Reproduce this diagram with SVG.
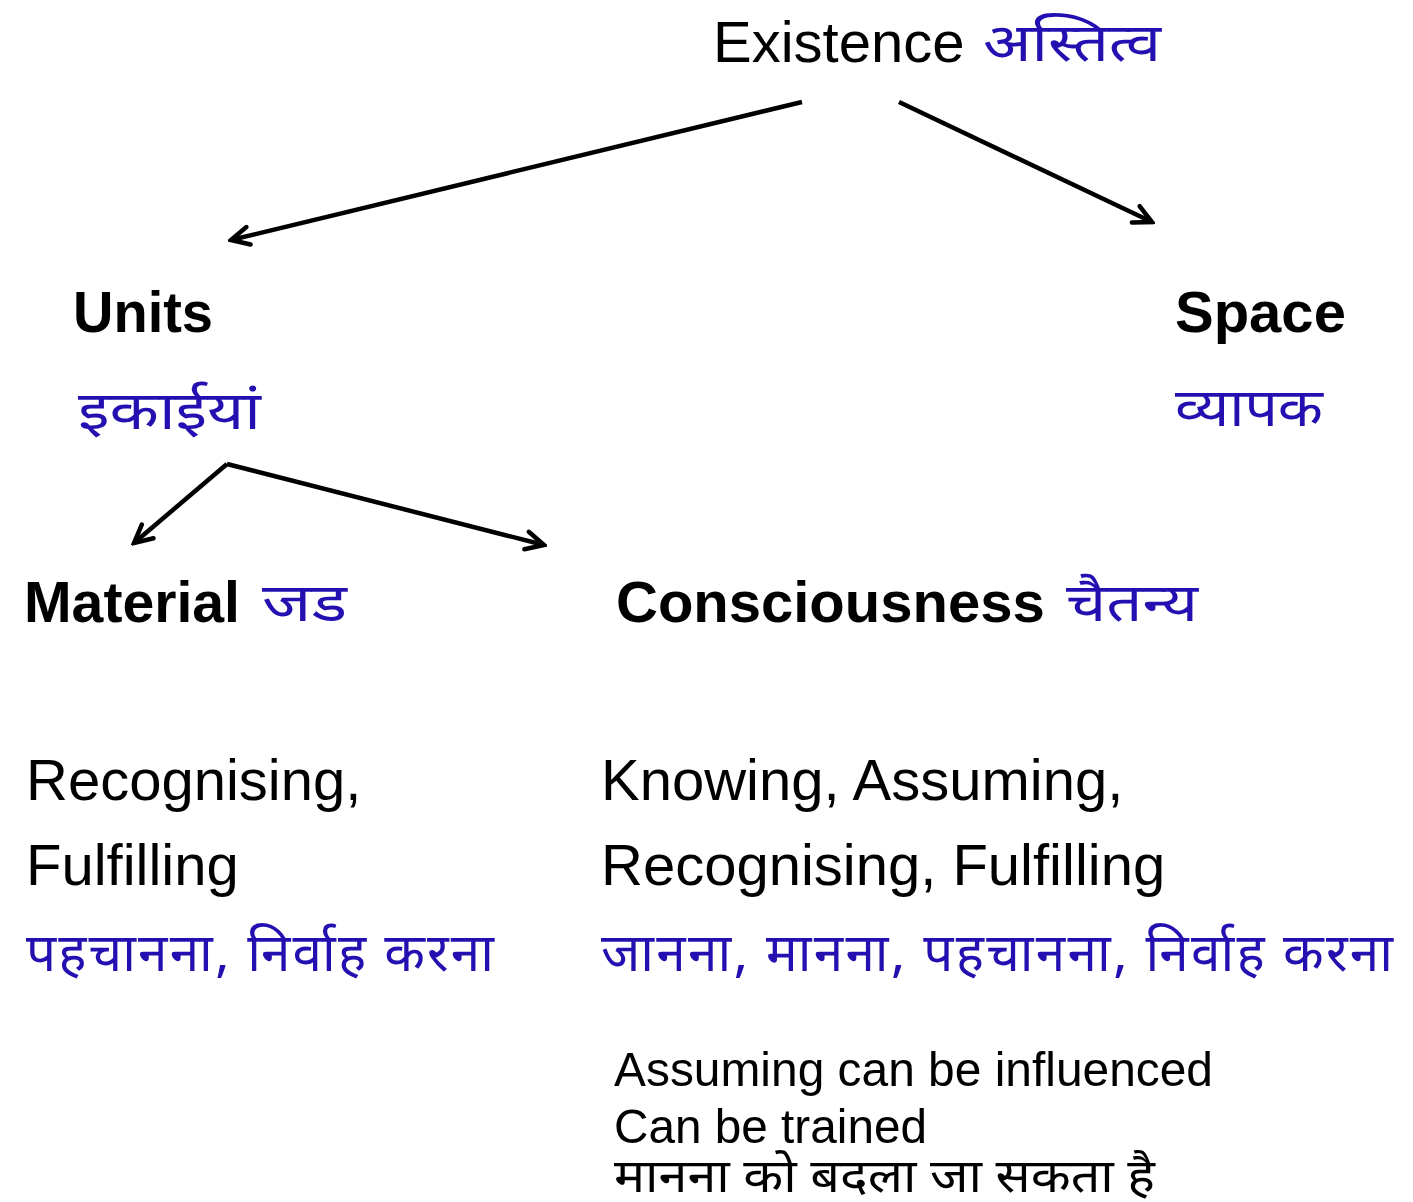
<svg xmlns="http://www.w3.org/2000/svg" width="1413" height="1202" viewBox="0 0 1413 1202">
<defs>
<style>
.en{font-family:"Liberation Sans",Arial,sans-serif;fill:#000;font-size:58px}
.b{font-weight:bold}
.hi{font-family:"Noto Sans Devanagari","Noto Sans","Liberation Sans",sans-serif;fill:#2410b0;font-size:53px}
.hk{font-family:"Noto Sans Devanagari","Noto Sans","Liberation Sans",sans-serif;fill:#000;font-size:46px}
.sm{font-family:"Liberation Sans",Arial,sans-serif;fill:#000;font-size:49px}
.c{stroke:#000;stroke-width:4.5;fill:none}
</style>
<marker id="ah" viewBox="0 0 24 24" refX="21" refY="12" markerWidth="24" markerHeight="24" markerUnits="userSpaceOnUse" orient="auto">
<path d="M3,3 L21,12 L3,21" fill="none" stroke="#000" stroke-width="4.5" stroke-linecap="round"/>
</marker>
</defs>
<rect width="1413" height="1202" fill="#fff"/>
<g id="existence">
<text class="en" x="713" y="62">Existence</text>
<text class="hi" x="983" y="61" textLength="178" lengthAdjust="spacingAndGlyphs">अस्तित्व</text>
</g>
<g id="units">
<text class="en b" x="73" y="332" textLength="140" lengthAdjust="spacingAndGlyphs">Units</text>
<text class="hi" x="78" y="429" textLength="183" lengthAdjust="spacingAndGlyphs">इकाईयां</text>
</g>
<g id="space">
<text class="en b" x="1175" y="332">Space</text>
<text class="hi" x="1175" y="426" textLength="148" lengthAdjust="spacingAndGlyphs">व्यापक</text>
</g>
<g id="material">
<text class="en b" x="24" y="622" textLength="216" lengthAdjust="spacingAndGlyphs">Material</text>
<text class="hi" x="262" y="621" textLength="85" lengthAdjust="spacingAndGlyphs">जड</text>
<text class="en" x="26" y="800">Recognising,</text>
<text class="en" x="26" y="885">Fulfilling</text>
<text class="hi" x="26" y="971" textLength="468" lengthAdjust="spacing">पहचानना, निर्वाह करना</text>
</g>
<g id="consciousness">
<text class="en b" x="616" y="622">Consciousness</text>
<text class="hi" x="1066" y="621" textLength="132" lengthAdjust="spacingAndGlyphs">चैतन्य</text>
<text class="en" x="601" y="800">Knowing, Assuming,</text>
<text class="en" x="601" y="885">Recognising, Fulfilling</text>
<text class="hi" x="601" y="971" textLength="792" lengthAdjust="spacing">जानना, मानना, पहचानना, निर्वाह करना</text>
</g>
<g id="note">
<text class="sm" x="614" y="1086" textLength="599" lengthAdjust="spacingAndGlyphs">Assuming can be influenced</text>
<text class="sm" x="614" y="1143" textLength="313" lengthAdjust="spacingAndGlyphs">Can be trained</text>
<text class="hk" x="614" y="1192" textLength="541" lengthAdjust="spacingAndGlyphs">मानना को बदला जा सकता है</text>
</g>
<g id="connectors">
<line class="c" x1="802" y1="102" x2="231" y2="240" marker-end="url(#ah)"/>
<line class="c" x1="899" y1="102" x2="1152" y2="222" marker-end="url(#ah)"/>
<polyline class="c" points="227,464 544,545" marker-end="url(#ah)"/>
<line class="c" x1="227" y1="464" x2="134" y2="543" marker-end="url(#ah)"/>
</g>
</svg>
